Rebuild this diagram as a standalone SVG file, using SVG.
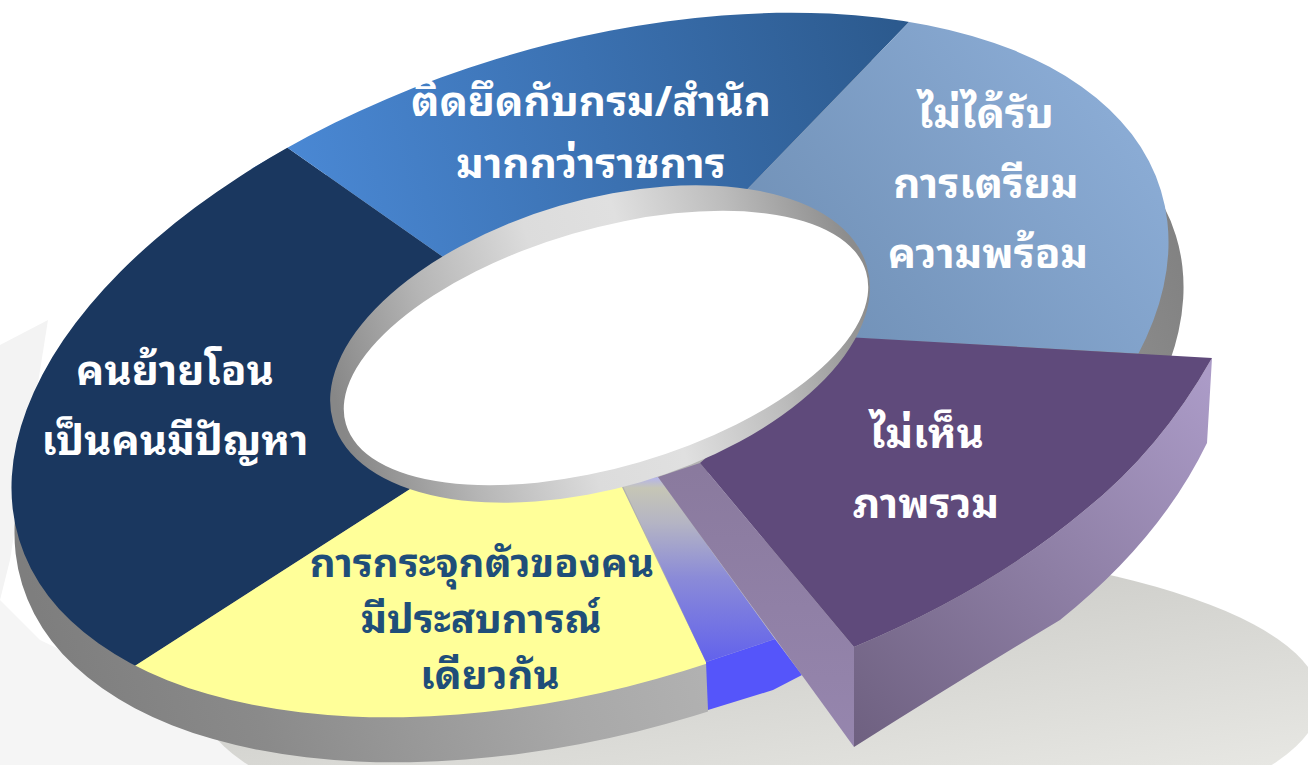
<svg xmlns="http://www.w3.org/2000/svg" width="1308" height="765" viewBox="0 0 1308 765">
<defs>
<style>
.t{font-family:'Noto Sans Thai Looped','Noto Serif Thai',Loma,Garuda,'Tlwg Typo',Tahoma,'Noto Sans Thai','DejaVu Sans',sans-serif;font-weight:bold;font-size:42px;text-anchor:middle}
.w{fill:#ffffff}
.d{fill:#1f4e79;font-size:40px}
</style>
<linearGradient id="floor" x1="0.3" y1="0" x2="0.8" y2="1">
<stop offset="0" stop-color="#c4c4c0"/><stop offset="1" stop-color="#eeeeea"/>
</linearGradient>
<linearGradient id="side" gradientUnits="userSpaceOnUse" x1="0" y1="0" x2="1190" y2="0">
<stop offset="0" stop-color="#7e7e7e"/><stop offset="0.15" stop-color="#8a8a8a"/><stop offset="0.4" stop-color="#a8a8a8"/><stop offset="0.55" stop-color="#b4b4b4"/><stop offset="0.8" stop-color="#9a9a9a"/><stop offset="1" stop-color="#828282"/>
</linearGradient>
<linearGradient id="blue" gradientUnits="userSpaceOnUse" x1="300" y1="200" x2="900" y2="40">
<stop offset="0" stop-color="#4a88d4"/><stop offset="1" stop-color="#2c5a8e"/>
</linearGradient>
<linearGradient id="lblue" gradientUnits="userSpaceOnUse" x1="800" y1="330" x2="1100" y2="100">
<stop offset="0" stop-color="#7090b6"/><stop offset="1" stop-color="#8aabd4"/>
</linearGradient>
<linearGradient id="bface" gradientUnits="userSpaceOnUse" x1="0" y1="477" x2="0" y2="662">
<stop offset="0" stop-color="#b4b4ee"/><stop offset="0.06" stop-color="#c6c6b6"/><stop offset="0.25" stop-color="#b4b4c4"/><stop offset="0.55" stop-color="#8a8ad8"/><stop offset="1" stop-color="#6262ec"/>
</linearGradient>
<linearGradient id="pside" gradientUnits="userSpaceOnUse" x1="1210" y1="380" x2="860" y2="740">
<stop offset="0" stop-color="#ab9bc7"/><stop offset="1" stop-color="#6f6181"/>
</linearGradient>
<linearGradient id="pend" gradientUnits="userSpaceOnUse" x1="0" y1="470" x2="0" y2="747">
<stop offset="0" stop-color="#8a7a9e"/><stop offset="1" stop-color="#9686ae"/>
</linearGradient>
<linearGradient id="rim" gradientUnits="userSpaceOnUse" x1="330" y1="0" x2="870" y2="0">
<stop offset="0" stop-color="#878787"/><stop offset="0.204" stop-color="#b5b5b5"/><stop offset="0.426" stop-color="#dcdcdc"/><stop offset="0.593" stop-color="#e0e0e0"/><stop offset="0.796" stop-color="#bcbcbc"/><stop offset="1" stop-color="#8c8c8c"/>
</linearGradient>
<clipPath id="topclip">
<ellipse cx="590" cy="365" rx="597" ry="320" transform="rotate(-17 590 365)"/>
</clipPath>
<clipPath id="sideclip">
<polygon points="0,0 1308,0 1308,360 760,360 708,470 708,765 0,765"/>
</clipPath>
</defs>

<g id="background">
<polygon points="0,345 48,320 10,560 0,600" fill="#f3f3f3"/>
<polygon points="0,600 40,640 300,765 0,765" fill="#f5f5f5"/>
<ellipse cx="760" cy="700" rx="560" ry="160" fill="url(#floor)"/>
</g>

<g id="ring-side" clip-path="url(#sideclip)">
<g transform="translate(9,45) translate(590,0) scale(1.0104,1) translate(-590,0)">
<ellipse cx="590" cy="365" rx="597" ry="320" transform="rotate(-17 590 365)" fill="url(#side)"/>
</g>
</g>

<g id="ring-top">
<polygon points="251,169 288,148 291,151 256,168" fill="#4a88d4"/>
<g clip-path="url(#topclip)">
<g id="seg-navy"><polygon points="600,367 138,43 -200,43 -200,831 -122,831" fill="#1a375f"/></g>
<g id="seg-blue"><polygon points="600,367 138,43 138,-200 1124,-200 640,300" fill="url(#blue)"/></g>
<g id="seg-lightblue"><polygon points="640,300 1124,-200 1400,-200 1400,368 750,332" fill="url(#lblue)"/></g>
<g id="seg-yellow"><polygon points="600,367 -122,831 -122,900 820,900 622,487" fill="#ffff99"/></g>
</g>
</g>

<g id="gap-faces">
<polygon points="622,484 658,477 775,639 706,662" fill="url(#bface)"/>
<polygon points="706,662 775,639 802,675 773,690 708,710" fill="#5555fa"/>
</g>

<g id="seg-purple">
<path d="M1212,358 Q1160,450 1085,510 Q990,590 854,647 L854,747 Q960,680 1060,620 Q1160,540 1207,443 Z" fill="url(#pside)"/>
<polygon points="658,477 700,463 854,647 854,747" fill="url(#pend)"/>
<path d="M700,463 L846,337 L1212,358 Q1160,450 1085,510 Q990,590 854,647 Z" fill="#5f4a7b"/>
</g>

<g id="hole">
<ellipse cx="600" cy="344" rx="278" ry="144" transform="rotate(-16.3 600 344)" fill="url(#rim)"/>
<ellipse cx="606" cy="348" rx="271" ry="119" transform="rotate(-16.3 606 348)" fill="#ffffff"/>
</g>

<g id="labels">
<text class="t w" x="175" y="385">คนย้ายโอน</text>
<text class="t w" x="175" y="455">เป็นคนมีปัญหา</text>
<text class="t w" x="591" y="116">ติดยึดกับกรม/สำนัก</text>
<text class="t w" x="591" y="178">มากกว่าราชการ</text>
<text class="t w" x="986" y="128">ไม่ได้รับ</text>
<text class="t w" x="986" y="198">การเตรียม</text>
<text class="t w" x="988" y="268">ความพร้อม</text>
<text class="t w" x="927" y="448">ไม่เห็น</text>
<text class="t w" x="926" y="518">ภาพรวม</text>
<text class="t d" x="482" y="577">การกระจุกตัวของคน</text>
<text class="t d" x="481" y="633">มีประสบการณ์</text>
<text class="t d" x="490" y="689">เดียวกัน</text>
</g>
</svg>
